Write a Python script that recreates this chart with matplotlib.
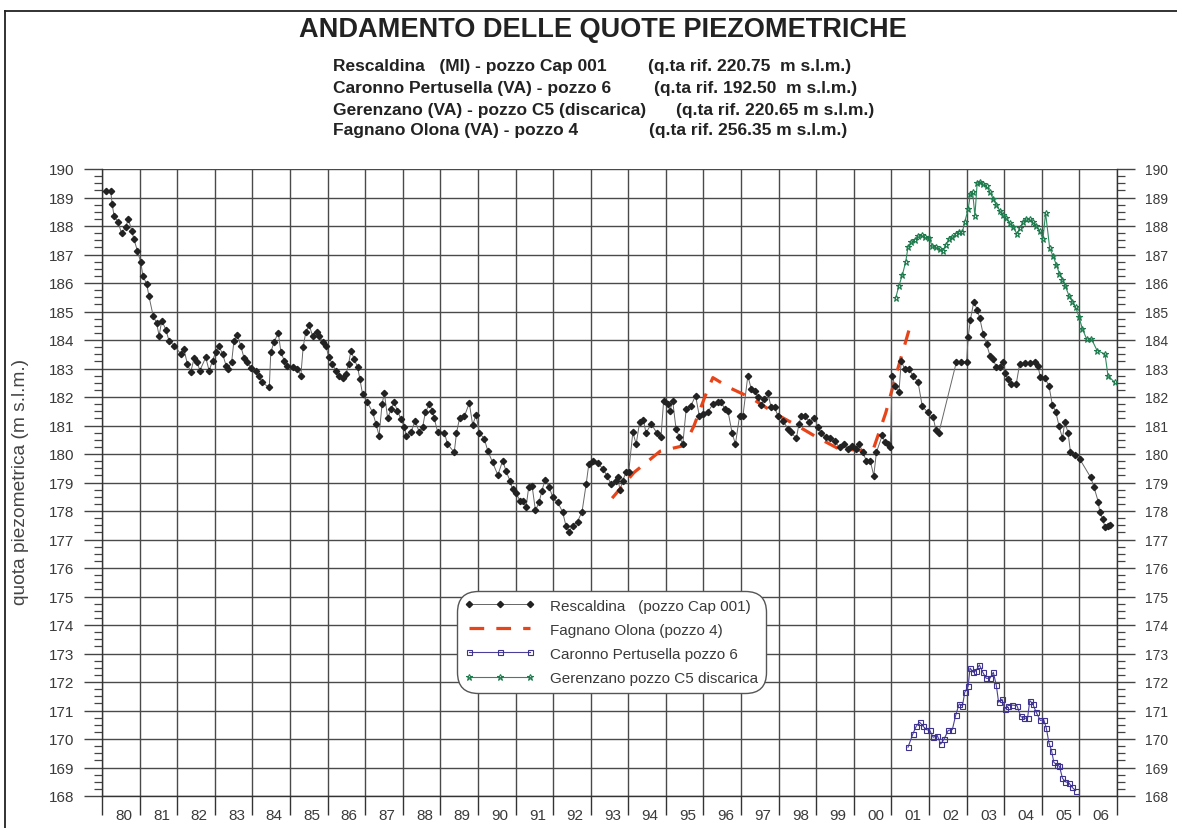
import matplotlib
matplotlib.use("Agg")
import matplotlib.pyplot as plt
from matplotlib.lines import Line2D
from matplotlib.ticker import MultipleLocator, FixedLocator, NullFormatter

# ---------------- data ----------------
resc_x = [1980.10, 1980.23, 1980.27, 1980.32, 1980.43, 1980.52, 1980.63, 1980.70, 1980.79, 1980.85,
          1980.94, 1981.03, 1981.09, 1981.19, 1981.25, 1981.36, 1981.45, 1981.52, 1981.59, 1981.70,
          1981.78, 1981.92, 1982.10, 1982.18, 1982.27, 1982.36, 1982.45, 1982.54, 1982.60, 1982.76,
          1982.85, 1982.94, 1983.03, 1983.10, 1983.21, 1983.30, 1983.35, 1983.45, 1983.51, 1983.60,
          1983.69, 1983.78, 1983.87, 1983.96, 1984.09, 1984.18, 1984.25, 1984.45, 1984.49, 1984.58,
          1984.69, 1984.76, 1984.85, 1984.93, 1985.07, 1985.20, 1985.29, 1985.35, 1985.42, 1985.51,
          1985.60, 1985.71, 1985.78, 1985.87, 1985.96, 1986.03, 1986.13, 1986.22, 1986.31, 1986.40,
          1986.49, 1986.56, 1986.62, 1986.71, 1986.80, 1986.86, 1986.93, 1987.06, 1987.20, 1987.29,
          1987.37, 1987.45, 1987.51, 1987.60, 1987.69, 1987.77, 1987.86, 1987.95, 1988.04, 1988.10,
          1988.22, 1988.33, 1988.44, 1988.53, 1988.60, 1988.71, 1988.79, 1988.84, 1988.93, 1989.11,
          1989.19, 1989.37, 1989.43, 1989.51, 1989.64, 1989.77, 1989.86, 1989.95, 1990.04, 1990.17,
          1990.26, 1990.39, 1990.53, 1990.66, 1990.75, 1990.85, 1990.92, 1991.01, 1991.12, 1991.21,
          1991.28, 1991.35, 1991.44, 1991.53, 1991.63, 1991.70, 1991.79, 1991.90, 1991.99, 1992.12,
          1992.25, 1992.34, 1992.43, 1992.52, 1992.65, 1992.77, 1992.88, 1992.95, 1993.06, 1993.19,
          1993.33, 1993.43, 1993.54, 1993.66, 1993.72, 1993.78, 1993.85, 1993.94, 1994.01, 1994.12,
          1994.21, 1994.30, 1994.40, 1994.47, 1994.61, 1994.76, 1994.87, 1994.94, 1995.05, 1995.11,
          1995.18, 1995.27, 1995.36, 1995.45, 1995.54, 1995.67, 1995.79, 1995.89, 1995.98, 1996.11,
          1996.25, 1996.38, 1996.47, 1996.56, 1996.65, 1996.76, 1996.85, 1996.96, 1997.05, 1997.18,
          1997.27, 1997.36, 1997.45, 1997.53, 1997.62, 1997.71, 1997.80, 1997.89, 1997.98, 1998.11,
          1998.25, 1998.33, 1998.47, 1998.54, 1998.60, 1998.71, 1998.82, 1998.95, 1999.04, 1999.13,
          1999.25, 1999.37, 1999.49, 1999.62, 1999.73, 1999.84, 1999.96, 2000.06, 2000.14, 2000.24,
          2000.33, 2000.44, 2000.53, 2000.60, 2000.76, 2000.82, 2000.91, 2000.97, 2001.02, 2001.09,
          2001.20, 2001.26, 2001.35, 2001.47, 2001.57, 2001.71, 2001.82, 2001.97, 2002.11, 2002.18,
          2002.26, 2002.73, 2002.86, 2003.00, 2003.04, 2003.10, 2003.19, 2003.28, 2003.35, 2003.44,
          2003.53, 2003.62, 2003.71, 2003.79, 2003.88, 2003.97, 2004.01, 2004.10, 2004.19, 2004.32,
          2004.41, 2004.55, 2004.68, 2004.81, 2004.90, 2004.96, 2005.08, 2005.19, 2005.28, 2005.37,
          2005.46, 2005.55, 2005.61, 2005.70, 2005.76, 2005.88, 2006.01, 2006.30, 2006.39, 2006.50,
          2006.54, 2006.62, 2006.68, 2006.76, 2006.82]
resc_y = [189.24, 189.24, 188.77, 188.36, 188.13, 187.74, 187.95, 188.25, 187.84, 187.54,
          187.13, 186.73, 186.24, 185.96, 185.53, 184.85, 184.60, 184.15, 184.68, 184.36,
          183.98, 183.80, 183.51, 183.68, 183.16, 182.87, 183.36, 183.22, 182.92, 183.39,
          182.92, 183.27, 183.59, 183.80, 183.51, 183.10, 182.98, 183.24, 183.98, 184.19,
          183.80, 183.36, 183.22, 183.01, 182.92, 182.75, 182.51, 182.34, 183.57, 183.94,
          184.25, 183.57, 183.27, 183.10, 183.04, 182.98, 182.75, 183.74, 184.27, 184.53,
          184.15, 184.29, 184.15, 183.92, 183.80, 183.39, 183.16, 182.92, 182.75, 182.66,
          182.81, 183.16, 183.62, 183.33, 183.04, 182.63, 182.11, 181.81, 181.46, 181.05,
          180.64, 181.75, 182.14, 181.25, 181.58, 181.81, 181.52, 181.23, 180.94, 180.64,
          180.76, 181.17, 180.76, 180.94, 181.46, 181.75, 181.52, 181.25, 180.76, 180.74,
          180.35, 180.06, 180.74, 181.25, 181.32, 181.79, 181.02, 181.37, 180.74, 180.53,
          180.12, 179.71, 179.26, 179.77, 179.39, 179.07, 178.77, 178.63, 178.36, 178.36,
          178.13, 178.83, 178.89, 178.02, 178.31, 178.71, 179.10, 178.83, 178.48, 178.30,
          177.98, 177.49, 177.28, 177.49, 177.63, 177.98, 178.95, 179.65, 179.74, 179.68,
          179.47, 179.24, 178.95, 179.04, 179.18, 178.72, 179.06, 179.36, 179.36, 180.76,
          180.35, 181.11, 181.21, 180.74, 181.05, 180.74, 180.59, 181.87, 181.75, 181.52,
          181.87, 180.88, 180.59, 180.35, 181.58, 181.70, 182.05, 181.32, 181.40, 181.46,
          181.75, 181.81, 181.84, 181.58, 181.52, 180.74, 180.35, 181.34, 181.34, 182.75,
          182.28, 182.22, 181.99, 181.72, 181.93, 182.14, 181.64, 181.64, 181.34, 181.17,
          180.88, 180.76, 180.55, 181.05, 181.34, 181.34, 181.11, 181.28, 180.94, 180.74,
          180.59, 180.55, 180.44, 180.23, 180.35, 180.18, 180.29, 180.18, 180.35, 180.06,
          179.77, 179.74, 179.24, 180.06, 180.67, 180.41, 180.35, 180.23, 182.75, 182.40,
          182.16, 183.27, 182.98, 182.98, 182.75, 182.51, 181.67, 181.46, 181.29, 180.85,
          180.74, 183.24, 183.24, 183.24, 184.09, 184.71, 185.34, 185.07, 184.76, 184.21,
          183.86, 183.45, 183.33, 183.04, 183.04, 183.24, 182.84, 182.63, 182.46, 182.46,
          183.16, 183.19, 183.19, 183.24, 183.08, 182.69, 182.66, 182.40, 181.72, 181.49,
          180.97, 180.55, 181.13, 180.74, 180.08, 179.96, 179.82, 179.18, 178.83, 178.33,
          177.98, 177.72, 177.43, 177.49, 177.51]

fagn_x = [1993.57, 1994.15, 1994.85, 1995.50, 1995.75, 1996.05, 1996.25, 1996.70, 1997.25,
          1998.00, 1998.55, 1999.00, 1999.60, 2000.50, 2000.85, 2001.15, 2001.50]
fagn_y = [178.45, 179.35, 180.10, 180.30, 181.00, 182.05, 182.68, 182.32, 181.98,
          181.35, 180.95, 180.60, 180.18, 180.10, 181.45, 182.90, 184.50]

caro_x = [2001.44, 2001.57, 2001.66, 2001.75, 2001.84, 2001.93, 2002.02, 2002.11, 2002.22, 2002.31,
          2002.40, 2002.51, 2002.62, 2002.71, 2002.80, 2002.89, 2002.95, 2003.04, 2003.09, 2003.18,
          2003.25, 2003.34, 2003.43, 2003.52, 2003.62, 2003.71, 2003.79, 2003.85, 2003.94, 2004.01,
          2004.10, 2004.22, 2004.34, 2004.44, 2004.53, 2004.62, 2004.68, 2004.76, 2004.85, 2004.96,
          2005.05, 2005.12, 2005.19, 2005.26, 2005.32, 2005.41, 2005.47, 2005.55, 2005.63, 2005.72,
          2005.81, 2005.90]
caro_y = [169.71, 170.18, 170.45, 170.59, 170.45, 170.33, 170.30, 170.06, 170.12, 169.82,
          170.00, 170.30, 170.33, 170.84, 171.23, 171.17, 171.64, 171.85, 172.49, 172.34,
          172.40, 172.60, 172.34, 172.13, 172.13, 172.34, 171.88, 171.29, 171.40, 171.05,
          171.17, 171.19, 171.17, 170.79, 170.73, 170.73, 171.35, 171.23, 170.94, 170.65,
          170.68, 170.38, 169.86, 169.59, 169.18, 169.09, 169.04, 168.62, 168.50, 168.46,
          168.30, 168.19]

gere_x = [2001.11, 2001.20, 2001.29, 2001.38, 2001.44, 2001.53, 2001.62, 2001.71, 2001.80, 2001.88,
          2002.00, 2002.09, 2002.19, 2002.28, 2002.37, 2002.44, 2002.53, 2002.62, 2002.71, 2002.80,
          2002.89, 2002.95, 2003.04, 2003.10, 2003.16, 2003.22, 2003.28, 2003.35, 2003.44, 2003.53,
          2003.62, 2003.71, 2003.79, 2003.88, 2003.97, 2004.06, 2004.15, 2004.24, 2004.34, 2004.41,
          2004.50, 2004.59, 2004.68, 2004.76, 2004.85, 2004.94, 2005.03, 2005.10, 2005.21, 2005.30,
          2005.39, 2005.47, 2005.55, 2005.63, 2005.72, 2005.81, 2005.90, 2005.99, 2006.08, 2006.19,
          2006.32, 2006.47, 2006.68, 2006.76, 2006.94]
gere_y = [185.46, 185.91, 186.28, 186.75, 187.25, 187.43, 187.52, 187.64, 187.68, 187.60,
          187.57, 187.29, 187.25, 187.19, 187.13, 187.33, 187.54, 187.60, 187.72, 187.80,
          187.80, 188.15, 188.58, 189.12, 189.18, 188.36, 189.51, 189.56, 189.47, 189.39,
          189.18, 188.95, 188.74, 188.54, 188.39, 188.27, 188.11, 187.95, 187.72, 187.92,
          188.13, 188.25, 188.23, 188.13, 188.01, 187.84, 187.54, 188.46, 187.22, 186.94,
          186.63, 186.32, 186.12, 185.88, 185.56, 185.35, 185.15, 184.80, 184.39, 184.04,
          184.04, 183.63, 183.51, 182.75, 182.51]

year_labels = ["80", "81", "82", "83", "84", "85", "86", "87", "88", "89", "90", "91", "92",
               "93", "94", "95", "96", "97", "98", "99", "00", "01", "02", "03", "04", "05", "06"]
y_min, y_max = 168, 190

title = "ANDAMENTO DELLE QUOTE PIEZOMETRICHE"
sub_left = ["Rescaldina   (MI) - pozzo Cap 001",
            "Caronno Pertusella (VA) - pozzo 6",
            "Gerenzano (VA) - pozzo C5 (discarica)",
            "Fagnano Olona (VA) - pozzo 4"]
sub_right = ["(q.ta rif. 220.75  m s.l.m.)",
             "(q.ta rif. 192.50  m s.l.m.)",
             "(q.ta rif. 220.65 m s.l.m.)",
             "(q.ta rif. 256.35 m s.l.m.)"]
legend_labels = ["Rescaldina   (pozzo Cap 001)", "Fagnano Olona (pozzo 4)",
                 "Caronno Pertusella pozzo 6", "Gerenzano pozzo C5 discarica"]

# ---------------- figure ----------------
W, H = 1177, 829
plt.rcParams['font.family'] = ['Liberation Sans', 'DejaVu Sans']

fig = plt.figure(figsize=(W / 100, H / 100), dpi=100)
fig.patch.set_facecolor("white")

def fx(px):
    return px / W

def fy(py):
    return 1 - py / H

ax = fig.add_axes([fx(102), fy(797), fx(1117) - fx(102), fy(170) - fy(797)])
ax.set_xlim(1980, 2007)
ax.set_ylim(y_min, y_max)

grid_c = "#4a4a4a"
ax.yaxis.set_major_locator(MultipleLocator(1))
ax.yaxis.set_minor_locator(MultipleLocator(0.25))
ax.xaxis.set_major_locator(MultipleLocator(1))
ax.xaxis.set_major_formatter(NullFormatter())
ax.xaxis.set_minor_locator(FixedLocator([1980.58 + i for i in range(len(year_labels))]))
ax.set_xticklabels(year_labels, minor=True)
ax.grid(True, which="major", color=grid_c, linewidth=1.0)
ax.set_axisbelow(True)

ax.tick_params(axis="y", which="major", left=True, right=True, labelleft=True, labelright=True,
               length=13, width=1.0, color="#444444", labelsize=11, labelcolor="#3a3a3a", pad=7,
               direction="out")
ax.tick_params(axis="y", which="minor", left=True, right=True, length=6, width=0.9,
               color="#444444", direction="out")
ax.tick_params(axis="x", which="major", bottom=True, length=13.5, width=1.0, color="#333333",
               direction="out")
ax.tick_params(axis="x", which="minor", bottom=True, length=0, labelsize=11,
               labelcolor="#3a3a3a", pad=9)
for t in ax.yaxis.get_major_ticks():
    t.label2.set_fontsize(10)
for s in ax.spines.values():
    s.set_color("#333333")
    s.set_linewidth(1.0)
ax.spines["top"].set_visible(False)

# series
ax.plot(resc_x, resc_y, color="#666666", linewidth=0.7, marker="D", markersize=3.2,
        markerfacecolor="#222222", markeredgecolor="#222222", label=legend_labels[0], zorder=4)
ax.plot(fagn_x, fagn_y, color="#e8441a", linewidth=2.3, linestyle=(0, (4.6, 3.8)),
        label=legend_labels[1], zorder=3)
ax.plot(caro_x, caro_y, color="#4b3f9c", linewidth=0.8, marker="s", markersize=3.6,
        markerfacecolor="none", markeredgecolor="#3d3290", markeredgewidth=0.8,
        label=legend_labels[2], zorder=4)
ax.plot(gere_x, gere_y, color="#2f8a5e", linewidth=0.8, marker="*", markersize=5,
        markerfacecolor="none", markeredgecolor="#1d7a4c", markeredgewidth=0.8,
        label=legend_labels[3], zorder=4)

# y label
fig.text(fx(21), fy(482), "quota piezometrica (m s.l.m.)", rotation=90, ha="center", va="center",
         fontsize=13.8, color="#444444")

# legend
leg = ax.legend(loc="upper left", bbox_to_anchor=(fx(457), fy(592)), bbox_transform=fig.transFigure,
                borderaxespad=0, fontsize=11, handlelength=4.6, numpoints=3, labelspacing=0.66,
                handletextpad=0.98, borderpad=0.5, frameon=True, fancybox=True,
                labelcolor="#3a3a3a")
fr = leg.get_frame()
fr.set_boxstyle("round,pad=0,rounding_size=1.35")
fr.set_edgecolor("#555555")
fr.set_linewidth(1.0)
fr.set_facecolor("white")
fr.set_alpha(1)
leg.set_zorder(10)

# titles
fig.text(fx(603), fy(30), title, ha="center", va="center", fontsize=19.5, fontweight="bold",
         color="#222222")
row_y = [67, 89, 110, 131]
right_end = [851, 857, 874, 847]
for i in range(4):
    fig.text(fx(333), fy(row_y[i]), sub_left[i], ha="left", va="center", fontsize=12.5,
             fontweight="bold", color="#222222")
    fig.text(fx(right_end[i]), fy(row_y[i]), sub_right[i], ha="right", va="center", fontsize=12.5,
             fontweight="bold", color="#222222")

# outer frame (top and left borders)
fig.add_artist(Line2D([fx(5), 1.0], [fy(12), fy(12)], transform=fig.transFigure,
                      color="#222222", linewidth=1.3))
fig.add_artist(Line2D([fx(5), fx(5)], [fy(12), 0.0], transform=fig.transFigure,
                      color="#222222", linewidth=1.3))

fig.savefig("out.png", dpi=100, facecolor="white")
